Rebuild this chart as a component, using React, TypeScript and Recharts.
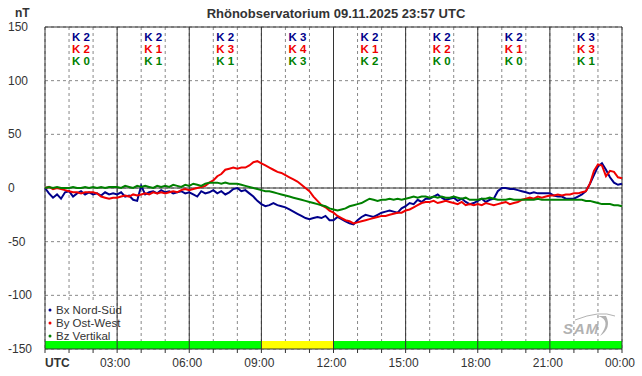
import {
  CartesianGrid,
  Line,
  LineChart,
  ReferenceArea,
  ReferenceLine,
  XAxis,
  YAxis,
} from "recharts";

const FONT = "Arial, 'Liberation Sans', sans-serif";

// 10-minute samples from 00:00 to 24:00 UTC, values in nT
const bx = [
  0, -5, -9, -6, -10, -4,
  -3, -8, -5, -3, -6, -4,
  -6, -5, -7, -4, -6, -5,
  -6, -4, -8, -7, -11, -12,
  2, -6, -4, -3, -5, -2,
  -4, -3, -5, -4, -3, -5,
  -4, -6, -8, -3, -5, -4,
  -2, -5, -3, -6, -4, -1,
  0, -3, -2, -5, -8, -12,
  -15, -17, -16, -14, -16, -17,
  -18, -20, -22, -24, -26, -28,
  -29, -28, -27, -28, -26, -30,
  -30, -27, -29, -31, -33, -34,
  -30, -27, -25, -26, -27, -25,
  -23, -22, -21, -22, -23, -19,
  -17, -14, -15, -11, -13, -10,
  -10, -8, -6, -9, -11, -10,
  -9, -12, -10, -13, -15, -14,
  -12, -10, -13, -11, -10, -3,
  0, 0, -1, -1, -2, -3,
  -4, -5, -4, -5, -5, -5,
  -5, -7, -8, -8, -10, -10,
  -10, -8, -6, -3, 4, 12,
  20, 23, 17, 10, 5, 3,
  4,
];

const by = [
  0, 1, -1, 0, -1, -2,
  -3, -4, -4, -5, -4, -4,
  -4, -5, -8, -9, -10, -9,
  -9, -8, -7, -8, -6, -7,
  -6, -5, -6, -4, -5, -4,
  -5, -4, -3, -4, -2, -1,
  -2, -1, 0, 1, 2, 5,
  7, 11, 13, 17, 18, 19,
  18, 19, 19, 21, 24, 25,
  23, 21, 19, 17, 15, 14,
  12, 10, 8, 6, 3, 0,
  -3, -8, -12, -16, -18, -21,
  -23, -26, -28, -30, -31, -33,
  -32, -31, -30, -29, -28, -27,
  -26, -26, -25, -24, -23, -23,
  -21, -20, -18, -16, -14, -13,
  -13, -12, -14, -13, -12, -13,
  -14, -15, -13, -16, -15, -16,
  -15, -16, -14, -15, -16, -15,
  -14, -13, -15, -14, -13, -11,
  -10, -9, -10, -8, -9, -8,
  -7, -7, -6, -7, -6, -6,
  -5, -5, -4, -3, 4, 16,
  22, 21, 11, 16, 15, 10,
  9,
];

const bz = [
  0, 1, 0, 1, 0, 0,
  0, 1, 0, 0, 1, 0,
  1, 0, 1, 0, 1, 1,
  1, 0, 2, 1, 0, 2,
  1, 2, 1, 0, 2, 1,
  2, 1, 3, 2, 1, 3,
  2, 4, 3, 2, 4, 5,
  5, 5, 4, 5, 4, 4,
  4, 3, 2, 1, 0, -1,
  -2, -3, -3, -4, -5, -6,
  -7, -8, -9, -10, -11, -12,
  -13, -14, -15, -16, -17, -19,
  -20, -21, -20, -19, -17, -16,
  -15, -14, -12, -10, -11, -12,
  -11, -11, -10, -11, -10, -11,
  -10, -9, -8, -9, -8, -8,
  -9, -8, -9, -8, -9, -9,
  -8, -9, -10, -9, -11, -11,
  -11, -10, -10, -9, -10, -11,
  -11, -11, -10, -11, -11, -11,
  -11, -11, -11, -10, -11, -11,
  -11, -11, -11, -11, -11, -11,
  -11, -11, -11, -12, -12, -13,
  -14, -15, -15, -15, -16, -16,
  -17,
];

// K index per 3-hour window
const kBx = [2, 2, 2, 3, 2, 2, 2, 3];
const kBy = [2, 1, 3, 4, 1, 2, 1, 3];
const kBz = [0, 1, 1, 3, 2, 0, 0, 1];

// data status strip along the bottom
const statusFrom = [0, 9, 12];
const statusTo = [9, 12, 24];
const statusColor = ["#00ff00", "#ffff00", "#00ff00"];

const hourTicks = Array.from({ length: 25 }, (_, i) => i);
const threeHours = [0, 3, 6, 9, 12, 15, 18, 21, 24];
const yTicks = [-150, -100, -50, 0, 50, 100, 150];

const series = [
  { key: "bx", name: "Bx Nord-Süd", color: "#00008b" },
  { key: "by", name: "By Ost-West", color: "#f00000" },
  { key: "bz", name: "Bz Vertikal", color: "#008000" },
];

const data = bx.map((v, i) => ({ h: i / 6, bx: v, by: by[i], bz: bz[i] }));

function XTick(props: any) {
  const { x, y, payload } = props;
  const h = payload.value;
  if (h % 3 !== 0) return <g />;
  if (h === 0) {
    return (
      <text x={x} y={y + 12} fontSize={12} fontWeight="bold" fill="#333" fontFamily={FONT}>
        UTC
      </text>
    );
  }
  const label = `${String(h % 24).padStart(2, "0")}:00`;
  return (
    <text x={x - 2} y={y + 12} fontSize={12} textAnchor="middle" fill="#333" fontFamily={FONT}>
      {label}
    </text>
  );
}

function YTick(props: any) {
  const { y, payload } = props;
  return (
    <text x={8} y={y + 4} fontSize={12} fill="#333" fontFamily={FONT}>
      {payload.value}
    </text>
  );
}

function kLabel(i: number) {
  return (props: any) => {
    const vb = props.viewBox;
    const cx = vb.x;
    const top = vb.y;
    const rows = [
      { v: kBx[i], c: "#00008b", dy: 14 },
      { v: kBy[i], c: "#f00000", dy: 26 },
      { v: kBz[i], c: "#008000", dy: 38 },
    ];
    return (
      <g>
        {rows.map((r) => (
          <text
            key={r.dy}
            x={cx}
            y={top + r.dy}
            textAnchor="middle"
            fontSize={11.5}
            fontWeight="bold"
            fill={r.c}
            fontFamily={FONT}
          >
            {`K ${r.v}`}
          </text>
        ))}
      </g>
    );
  };
}

export default function App() {
  return (
    <div style={{ position: "absolute", left: 0, top: 0, width: 642, height: 376, background: "#fff" }}>
      <LineChart width={642} height={376} data={data} margin={{ top: 27, right: 20, bottom: 0, left: 0 }}>
        <CartesianGrid stroke="#888" strokeDasharray="3 3" />
        <XAxis
          dataKey="h"
          type="number"
          domain={[0, 24]}
          ticks={hourTicks}
          interval={0}
          height={27}
          tickSize={4}
          tickLine={{ stroke: "#333" }}
          axisLine={{ stroke: "#333" }}
          tick={<XTick />}
        />
        <YAxis
          type="number"
          domain={[-150, 150]}
          ticks={yTicks}
          width={45}
          axisLine={false}
          tickLine={false}
          tick={<YTick />}
        />
        {threeHours.map((h) => (
          <ReferenceLine key={`v${h}`} x={h} stroke="#333" strokeWidth={1} />
        ))}
        <ReferenceLine y={0} stroke="#333" strokeWidth={1} />
        <ReferenceLine y={150} stroke="#333" strokeWidth={1} />
        {kBx.map((_, i) => (
          <ReferenceLine key={`k${i}`} x={i * 3 + 1.5} stroke="none" label={kLabel(i)} />
        ))}
        {statusFrom.map((f, i) => (
          <ReferenceArea
            key={`s${i}`}
            x1={f}
            x2={statusTo[i]}
            y1={-150}
            y2={-142.5}
            fill={statusColor[i]}
            fillOpacity={1}
            stroke="none"
          />
        ))}
        {series.map((s) => (
          <Line
            key={s.key}
            type="linear"
            dataKey={s.key}
            stroke={s.color}
            strokeWidth={2}
            dot={false}
            isAnimationActive={false}
          />
        ))}
      </LineChart>
      <svg
        width={642}
        height={376}
        style={{ position: "absolute", left: 0, top: 0, pointerEvents: "none" }}
        fontFamily={FONT}
      >
        <text x={336} y={18} textAnchor="middle" fontSize={13} fontWeight="bold" fill="#333">
          Rhönobservatorium 09.11.2025 23:57 UTC
        </text>
        <text x={15} y={17} fontSize={12} fontWeight="bold" fill="#333">
          nT
        </text>
        <rect x={46} y={303} width={70} height={38} fill="#fff" />
        {series.map((s, i) => (
          <g key={s.key}>
            <circle cx={50} cy={310 + i * 13} r={1.5} fill={s.color} />
            <text x={56} y={314 + i * 13} fontSize={11.5} fill="#333">
              {s.name}
            </text>
          </g>
        ))}
        <g opacity={0.75}>
          <path d="M 575 320 Q 600 310 615 316" stroke="#999" strokeWidth={1} fill="none" />
          <path d="M 598 316 Q 612 320 600 336 Q 612 328 606 316 Z" fill="#999" />
          <text x={563} y={334} fontSize={15} fontStyle="italic" fontWeight="bold" fill="#999" letterSpacing={1}>
            SAM
          </text>
        </g>
      </svg>
    </div>
  );
}
